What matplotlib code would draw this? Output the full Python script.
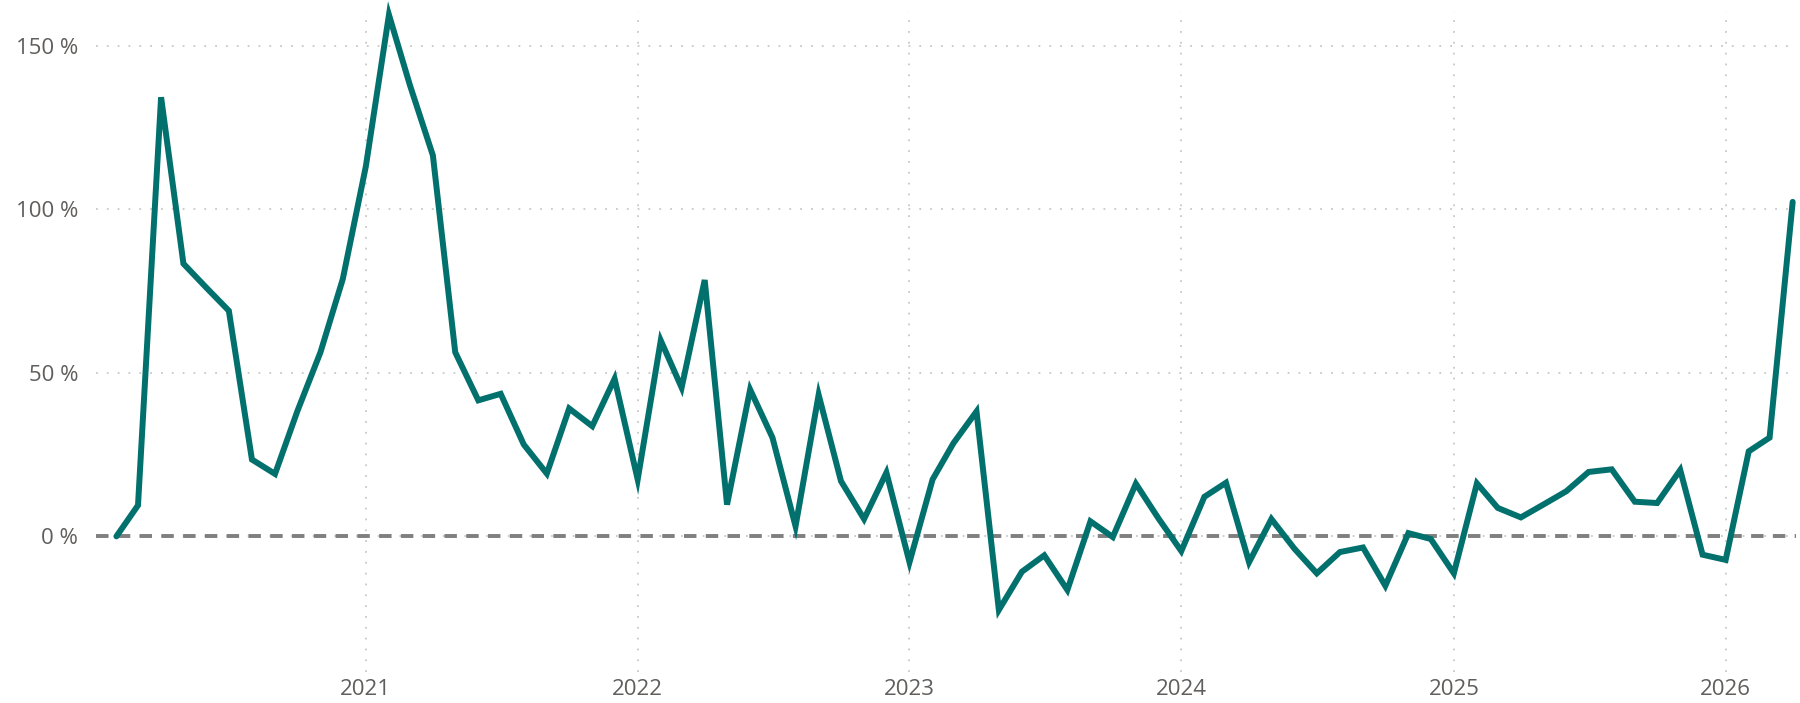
import numpy as np
import pandas as pd
import matplotlib
matplotlib.use("Agg")
import matplotlib.pyplot as plt
import matplotlib.dates as mdates
from matplotlib.ticker import FixedLocator, FuncFormatter

# Données : variation mensuelle (en %), de février 2020 à avril 2026
start_month = "2020-02-01"
values_2020 = [0, 9.5, 134.3, 83.4, 76.0, 69.0, 23.5, 19.1, 38.3, 56.3, 78.7]
values_2021 = [113.2, 159.5, 138.1, 116.5, 56.3, 41.6, 43.6, 28.1, 19.2, 39.1, 33.7, 48.2]
values_2022 = [17.4, 59.9, 45.5, 78.4, 9.7, 44.9, 30.2, 3.1, 43.3, 16.9, 5.3, 19.5]
values_2023 = [-7.9, 17.4, 28.5, 38.2, -22.5, -10.8, -5.8, -16.4, 4.6, -0.2, 16.1, 5.6]
values_2024 = [-4.5, 12.1, 16.4, -7.9, 5.3, -3.8, -11.3, -4.8, -3.4, -15.1, 1.0, -0.8]
values_2025 = [-11.3, 16.2, 8.7, 5.8, 9.7, 13.8, 19.7, 20.5, 10.6, 10.2, 20.3, -5.6]
values_2026 = [-7.2, 26.0, 30.2, 102.3]
y_ticks = [0, 50, 100, 150]

values = values_2020 + values_2021 + values_2022 + values_2023 + values_2024 + values_2025 + values_2026
dates = pd.date_range(start_month, periods=len(values), freq="MS")

line_color = "#02716E"
text_color = "#605E5C"
grid_color = "#C8C8C8"

plt.rcParams['font.family'] = ['Open Sans', 'DejaVu Sans']

fig = plt.figure(figsize=(18, 7.03), dpi=100)
ax = fig.add_axes([0.0535, 0.044, 0.9445, 0.94])

ax.plot(dates, values, color=line_color, lw=4.3, solid_joinstyle='miter',
        solid_capstyle='round', zorder=3, clip_on=False)
ax.axhline(0, color="#7F7F7F", lw=2.8, linestyle=(0, (3.2, 2.4)), zorder=2)

ax.set_xlim(pd.Timestamp("2020-01-05"), pd.Timestamp("2026-04-06"))
ax.set_ylim(-41.5, 160.6)

ax.xaxis.set_major_locator(mdates.YearLocator())
ax.xaxis.set_major_formatter(mdates.DateFormatter("%Y"))
ax.yaxis.set_major_locator(FixedLocator(y_ticks))
ax.yaxis.set_major_formatter(FuncFormatter(lambda v, p: "{:.0f} %".format(v)))

ax.grid(True, axis='x', color=grid_color, lw=1.3, linestyle=(0, (1, 5)))
ax.grid(True, axis='y', color=grid_color, lw=1.3, linestyle=(0, (1, 5)))
ax.set_axisbelow(True)

for s in ax.spines.values():
    s.set_visible(False)
ax.tick_params(axis='both', length=0, labelsize=16, labelcolor=text_color)
ax.tick_params(axis='y', pad=13)
ax.tick_params(axis='x', pad=5)

fig.savefig("out.png", dpi=100, facecolor="white")
